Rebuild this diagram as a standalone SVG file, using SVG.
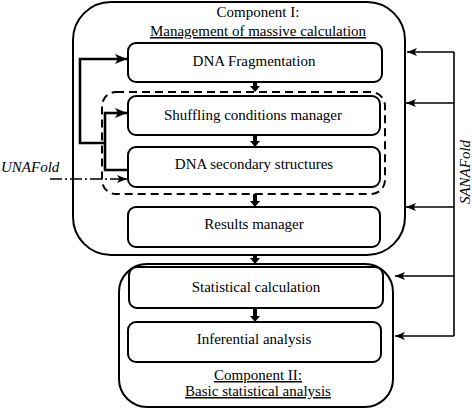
<svg xmlns="http://www.w3.org/2000/svg" width="472" height="409" viewBox="0 0 472 409">
<defs>
<marker id="ah" markerUnits="userSpaceOnUse" markerWidth="12" markerHeight="10" viewBox="0 0 12 10" refX="12" refY="5" orient="auto">
<path d="M0,0 L12,5 L0,10 L3,5 Z" fill="#000"/>
</marker>
<marker id="ahb" markerUnits="userSpaceOnUse" markerWidth="10" markerHeight="8" viewBox="0 0 10 8" refX="10" refY="4" orient="auto">
<path d="M0,0 L10,4 L0,8 L2.5,4 Z" fill="#000"/>
</marker>
</defs>
<style>
.comp{fill:none;stroke:#000;stroke-width:2}
.box{fill:#fff;stroke:#000;stroke-width:2}
text{font-family:'Liberation Serif','Times New Roman',serif;font-size:15px;fill:#000}
.t{text-anchor:middle}
.u{text-decoration:underline}
.it{font-style:italic}
.thin{fill:none;stroke:#000;stroke-width:1.6}
.thick{fill:none;stroke:#000;stroke-width:2.6}
.down{fill:#000}
</style>
<g id="component1">
<rect class="comp" x="73" y="2" width="332" height="253" rx="38"/>
<text class="t" x="258" y="17">Component I:</text>
<text class="t u" x="258" y="36">Management of massive calculation</text>
</g>
<g id="component2">
<rect class="comp" x="119" y="264" width="274" height="143" rx="28"/>
<text class="t u" x="258" y="380">Component II:</text>
<text class="t u" x="258" y="396">Basic statistical analysis</text>
</g>
<g id="dashed-group">
<rect x="102" y="92" width="283" height="102" rx="14" fill="none" stroke="#000" stroke-width="2" stroke-dasharray="8,5"/>
</g>
<g id="dna-fragmentation">
<rect class="box" x="128" y="43" width="254" height="39" rx="8"/>
<text class="t" x="254" y="66">DNA Fragmentation</text>
</g>
<g id="shuffling">
<rect class="box" x="128" y="96" width="252" height="39" rx="8"/>
<text class="t" x="253" y="120">Shuffling conditions manager</text>
</g>
<g id="dna-secondary">
<rect class="box" x="128" y="147" width="252" height="40" rx="8"/>
<text class="t" x="254" y="169">DNA secondary structures</text>
</g>
<g id="results">
<rect class="box" x="128" y="207" width="252" height="40" rx="8"/>
<text class="t" x="254" y="229">Results manager</text>
</g>
<g id="statistical">
<rect class="box" x="129" y="267" width="254" height="41" rx="8"/>
<text class="t" x="256" y="292">Statistical calculation</text>
</g>
<g id="inferential">
<rect class="box" x="128" y="322" width="253" height="40" rx="8"/>
<text class="t" x="254" y="344">Inferential analysis</text>
</g>
<g id="unafold">
<text class="it" x="1" y="172">UNAFold</text>
</g>
<g id="sanafold">
<text class="t it" transform="translate(470,172) rotate(-90)">SANAFold</text>
</g>
<g id="connectors">
<path class="down" d="M253,82 H257 V86 H260 L255,92 L250,86 H253 Z"/>
<path class="down" d="M253,135 H257 V141 H260 L255,147 L250,141 H253 Z"/>
<path class="down" d="M253,194 H257 V201 H260 L255,207 L250,201 H253 Z"/>
<path class="down" d="M253,255 H257 V258 H260 L255,264 L250,258 H253 Z"/>
<path class="down" d="M253,308 H257 V316 H260 L255,322 L250,316 H253 Z"/>
<path class="thick" d="M128,170 H105 V113 H127" marker-end="url(#ah)"/>
<path class="thick" d="M105,143 H80 V59 H127" marker-end="url(#ah)"/>
<path class="thin" d="M50,179 H127" stroke-dasharray="12,3,2,3" marker-end="url(#ahb)"/>
<path class="thin" d="M454,52 V336"/>
<path class="thin" d="M454,52 H407" marker-end="url(#ahb)"/>
<path class="thin" d="M454,103 H406" marker-end="url(#ahb)"/>
<path class="thin" d="M454,207 H406" marker-end="url(#ahb)"/>
<path class="thin" d="M454,276 H395" marker-end="url(#ahb)"/>
<path class="thin" d="M454,336 H395" marker-end="url(#ahb)"/>
</g>
</svg>
